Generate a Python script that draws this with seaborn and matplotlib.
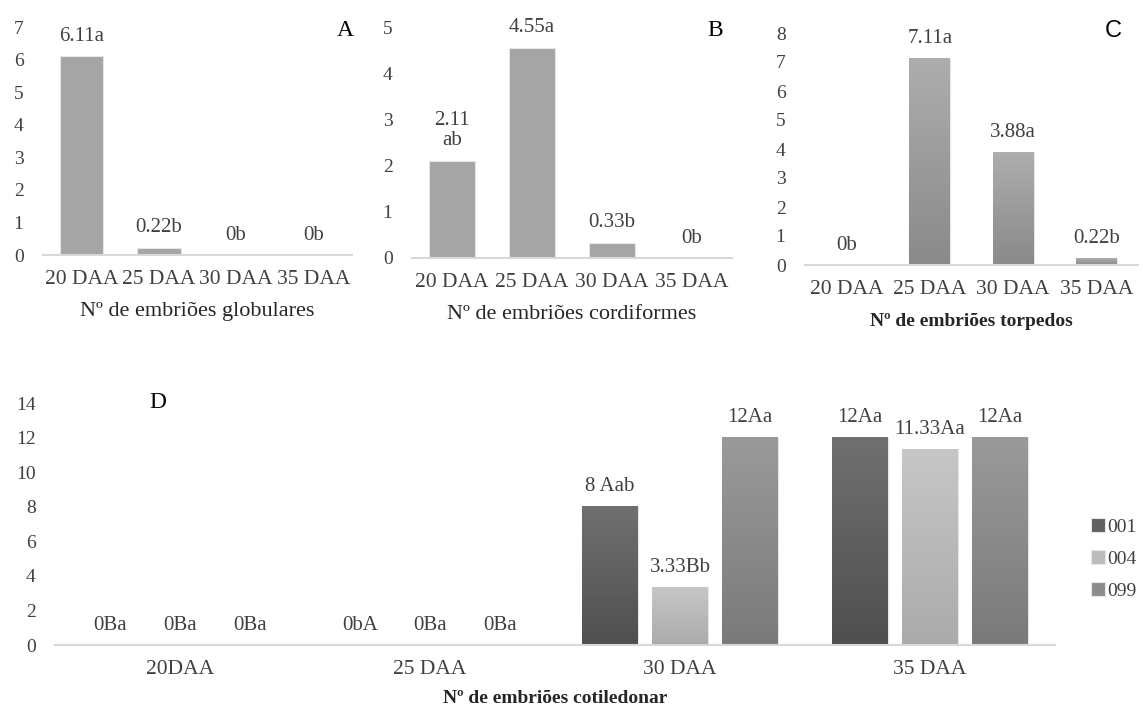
import numpy as np
import pandas as pd
import seaborn as sns
import matplotlib.pyplot as plt
from matplotlib.colors import LinearSegmentedColormap

# valores
dias = ["20 DAA", "25 DAA", "30 DAA", "35 DAA"]
globulares = [6.11, 0.22, 0, 0]
glob_letras = ["6.11a", "0.22b", "0b", "0b"]
cordiformes = [2.11, 4.55, 0.33, 0]
cord_letras = ["2.11\nab", "4.55a", "0.33b", "0b"]
torpedos = [0, 7.11, 3.88, 0.22]
torp_letras = ["0b", "7.11a", "3.88a", "0.22b"]

dias_d = ["20DAA", "25 DAA", "30 DAA", "35 DAA"]
genotipos = ["001", "004", "099"]
cot_001 = [0, 0, 8, 12]
cot_004 = [0, 0, 3.33, 11.33]
cot_099 = [0, 0, 12, 12]
let_001 = ["0Ba", "0bA", "8 Aab", "12Aa"]
let_004 = ["0Ba", "0Ba", "3.33Bb", "11.33Aa"]
let_099 = ["0Ba", "0Ba", "12Aa", "12Aa"]

sns.set_theme(style="white")
plt.rcParams["font.family"] = ["Liberation Serif", "DejaVu Serif"]
plt.rcParams["text.color"] = "#404040"

W, H = 1143, 709
fig = plt.figure(figsize=(W / 100, H / 100), dpi=100)


def box(l, t, r, b):
    return [l / W, (H - b) / H, (r - l) / W, (b - t) / H]


def estilo(ax, ymax, step):
    ax.set_ylim(0, ymax)
    ax.set_yticks(np.arange(0, ymax + 0.1, step))
    for s in ["top", "right", "left"]:
        ax.spines[s].set_visible(False)
    ax.spines["bottom"].set_color("#d5d9de")
    ax.spines["bottom"].set_linewidth(1.5)
    ax.tick_params(axis="y", length=0, pad=14, labelsize=14, labelcolor="#404040")
    ax.tick_params(axis="x", length=0, pad=11, labelsize=15.5, labelcolor="#404040")
    ax.set_ylabel("")


def gradiente(ax, cont, topo, base):
    # preenchimento em degrade como no original
    cmap = LinearSegmentedColormap.from_list("g", [topo, base])
    grad = np.linspace(0, 1, 100).reshape(-1, 1)
    for p in cont.patches:
        h = p.get_height()
        if h <= 0:
            continue
        x0, w = p.get_x(), p.get_width()
        ax.imshow(grad, extent=(x0, x0 + w, 0, h), aspect="auto", cmap=cmap,
                  zorder=p.get_zorder() + 0.1)


def rotulos(ax, cont, textos):
    for p, t in zip(cont.patches, textos):
        ax.annotate(t, (p.get_x() + p.get_width() / 2, p.get_height()),
                    xytext=(0, 7.5), textcoords="offset points",
                    ha="center", va="bottom", fontsize=15, linespacing=1.05,
                    color="#404040")


# A - globulares
axA = fig.add_axes(box(43, 27, 352, 255))
dfA = pd.DataFrame({"dia": dias, "n": globulares})
sns.barplot(data=dfA, x="dia", y="n", color="#a5a5a5", saturation=1, width=0.56,
            errorbar=None, edgecolor="#e6e6e6", linewidth=0.8, ax=axA)
estilo(axA, 7, 1)
rotulos(axA, axA.containers[0], glob_letras)
axA.set_xlabel("Nº de embriões globulares", fontsize=16, labelpad=9)
fig.text(345 / W, 1 - 30 / H, "A", fontsize=17, ha="center", va="center", color="black")

# B - cordiformes
axB = fig.add_axes(box(412, 27, 732, 258))
dfB = pd.DataFrame({"dia": dias, "n": cordiformes})
sns.barplot(data=dfB, x="dia", y="n", color="#a5a5a5", saturation=1, width=0.575,
            errorbar=None, edgecolor="#e6e6e6", linewidth=0.8, ax=axB)
estilo(axB, 5, 1)
rotulos(axB, axB.containers[0], cord_letras)
axB.set_xlabel("Nº de embriões cordiformes", fontsize=16, labelpad=9)
fig.text(715 / W, 1 - 31 / H, "B", fontsize=17, ha="center", va="center", color="black")

# C - torpedos
axC = fig.add_axes(box(805, 33, 1138, 265))
dfC = pd.DataFrame({"dia": dias, "n": torpedos})
sns.barplot(data=dfC, x="dia", y="n", color="#9c9c9c", saturation=1, width=0.49,
            errorbar=None, edgecolor="#e6e6e6", linewidth=0.8, ax=axC)
gradiente(axC, axC.containers[0], "#adadad", "#8a8a8a")
axC.set_xlim(-0.5, 3.5)
estilo(axC, 8, 1)
rotulos(axC, axC.containers[0], torp_letras)
axC.set_xlabel("Nº de embriões torpedos", fontsize=14, fontweight="bold", labelpad=10)
fig.text(1113 / W, 1 - 31 / H, "C", fontsize=17, ha="center", va="center",
         color="black", family="Liberation Sans")

# D - cotiledonar
axD = fig.add_axes(box(55, 403, 1055, 645))
dfD = pd.DataFrame({
    "dia": dias_d * 3,
    "gen": [g for g in genotipos for _ in dias_d],
    "n": cot_001 + cot_004 + cot_099,
})
cores = {"001": "#616161", "004": "#bcbcbc", "099": "#8c8c8c"}
sns.barplot(data=dfD, x="dia", y="n", hue="gen", hue_order=genotipos, palette=cores,
            saturation=1, width=0.84, gap=0.21, errorbar=None,
            edgecolor="#e6e6e6", linewidth=0.8, ax=axD)
for cont, topo, base in zip(axD.containers,
                            ["#707070", "#c6c6c6", "#9a9a9a"],
                            ["#4f4f4f", "#ababab", "#7a7a7a"]):
    gradiente(axD, cont, topo, base)
axD.set_xlim(-0.5, 3.5)
estilo(axD, 14, 2)
for cont, txt in zip(axD.containers, [let_001, let_004, let_099]):
    rotulos(axD, cont, txt)
axD.set_xlabel("Nº de embriões cotiledonar", fontsize=14, fontweight="bold", labelpad=8)
fig.text(158 / W, 1 - 403 / H, "D", fontsize=17, ha="center", va="center", color="black")

hand, lab = axD.get_legend_handles_labels()
axD.legend(hand, lab, loc="center left", bbox_to_anchor=(1091 / W, 1 - 559 / H),
           bbox_transform=fig.transFigure, frameon=False, fontsize=14,
           borderpad=0, borderaxespad=0,
           handlelength=0.7, handleheight=0.7, handletextpad=0.15, labelspacing=0.75,
           labelcolor="#404040")

fig.savefig("out.png", dpi=100, facecolor="white")
